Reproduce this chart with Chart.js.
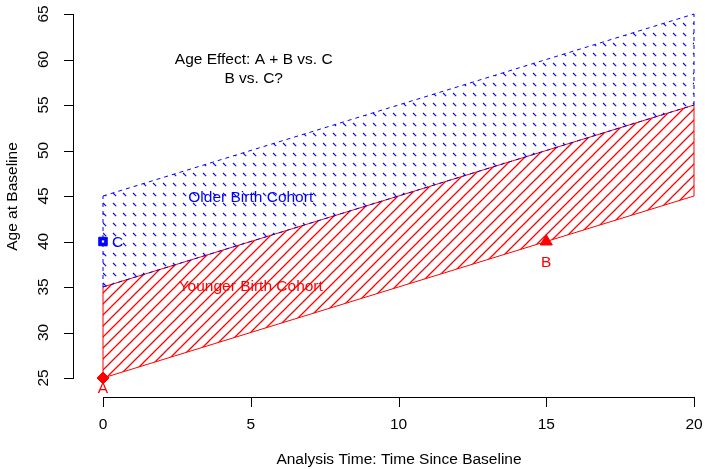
<!DOCTYPE html>
<html>
<head>
<meta charset="utf-8">
<script src="https://cdn.jsdelivr.net/npm/chart.js@4/dist/chart.umd.min.js"></script>
<style>
  html, body { margin: 0; padding: 0; background: #fff; }
  #wrap { width: 705px; height: 469px; }
</style>
</head>
<body>
<div id="wrap"><canvas id="cohort-chart" width="705" height="469"></canvas></div>
<script>
// Data
const timeX = [0, 20];
const youngerLow = [25, 45];
const youngerHigh = [35, 55];
const olderLow = [35, 55];
const olderHigh = [45, 65];

const xTicks = [0, 5, 10, 15, 20];
const yTicks = [25, 30, 35, 40, 45, 50, 55, 60, 65];

// marked points: A, B, C
const pointNames = ['A', 'B', 'C'];
const pointX = [0, 15, 0];
const pointY = [25, 40, 40];

const RED = 'rgb(255, 0, 0)';
const BLUE = 'rgb(0, 0, 255)';
const FONT = "'Liberation Sans', Arial, Helvetica, sans-serif";

function toXY(ys) {
    return timeX.map((x, i) => ({ x: x, y: ys[i] }));
}
function edge(x, lo, hi) {
    return [{ x: x, y: lo }, { x: x, y: hi }];
}

const ctx = document.getElementById('cohort-chart').getContext('2d');

// hatch patterns
function makeTile(size, draw) {
    const c = document.createElement('canvas');
    c.width = size; c.height = size;
    const g = c.getContext('2d');
    draw(g, size);
    return ctx.createPattern(c, 'repeat');
}
const redPattern = makeTile(11, (g, s) => {
    g.strokeStyle = RED;
    g.lineWidth = 1.3;
    g.beginPath();
    g.moveTo(-2, s + 2); g.lineTo(s + 2, -2);
    g.moveTo(-3, 3); g.lineTo(3, -3);
    g.moveTo(s - 3, s + 3); g.lineTo(s + 3, s - 3);
    g.stroke();
});
const bluePattern = makeTile(10, (g, s) => {
    g.strokeStyle = BLUE;
    g.lineWidth = 1.1;
    g.beginPath();
    g.moveTo(3, 3); g.lineTo(6.2, 6.2);
    g.stroke();
});

const lineBase = { pointRadius: 0, borderWidth: 1, tension: 0, clip: false };

// axes, tick labels and text drawn R-style
const annotations = {
    id: 'annotations',
    afterDatasetsDraw(chart) {
        const g = chart.ctx;
        const xs = chart.scales.x, ys = chart.scales.y;
        const axisX = xs.left - 30;   // detached y axis
        const axisY = ys.bottom + 19; // detached x axis
        g.save();
        g.strokeStyle = '#000';
        g.lineWidth = 1;
        g.fillStyle = '#000';
        g.font = '15.5px ' + FONT;

        // x axis
        const x0 = Math.round(xs.getPixelForValue(xTicks[0])) + 0.5;
        const x1 = Math.round(xs.getPixelForValue(xTicks[xTicks.length - 1])) + 0.5;
        g.beginPath();
        g.moveTo(x0, axisY + 0.5); g.lineTo(x1, axisY + 0.5);
        xTicks.forEach(t => {
            const px = Math.round(xs.getPixelForValue(t)) + 0.5;
            g.moveTo(px, axisY); g.lineTo(px, axisY + 10);
        });
        g.stroke();
        g.textAlign = 'center';
        g.textBaseline = 'middle';
        xTicks.forEach(t => g.fillText(String(t), xs.getPixelForValue(t), axisY + 28));
        g.fillText('Analysis Time: Time Since Baseline', (x0 + x1) / 2, axisY + 63);

        // y axis
        const y0 = Math.round(ys.getPixelForValue(yTicks[0])) + 0.5;
        const y1 = Math.round(ys.getPixelForValue(yTicks[yTicks.length - 1])) + 0.5;
        g.beginPath();
        g.moveTo(axisX + 0.5, y0); g.lineTo(axisX + 0.5, y1);
        yTicks.forEach(t => {
            const py = Math.round(ys.getPixelForValue(t)) + 0.5;
            g.moveTo(axisX + 1, py); g.lineTo(axisX - 9, py);
        });
        g.stroke();
        yTicks.forEach(t => {
            g.save();
            g.translate(axisX - 29, ys.getPixelForValue(t));
            g.rotate(-Math.PI / 2);
            g.fillText(String(t), 0, 0);
            g.restore();
        });
        g.save();
        g.translate(axisX - 60, (y0 + y1) / 2);
        g.rotate(-Math.PI / 2);
        g.fillText('Age at Baseline', 0, 0);
        g.restore();

        // title text inside plot
        g.fillText('Age Effect: A + B vs. C', xs.getPixelForValue(5.1), ys.getPixelForValue(60));
        g.fillText('B vs. C?', xs.getPixelForValue(5.1), ys.getPixelForValue(57.9));

        // cohort labels
        g.fillStyle = BLUE;
        g.fillText('Older Birth Cohort', xs.getPixelForValue(5), ys.getPixelForValue(44.8));
        g.fillStyle = RED;
        g.fillText('Younger Birth Cohort', xs.getPixelForValue(5), ys.getPixelForValue(35));

        // point labels
        g.fillStyle = RED;
        g.fillText(pointNames[0], xs.getPixelForValue(pointX[0]), ys.getPixelForValue(pointY[0]) + 11);
        g.fillText(pointNames[1], xs.getPixelForValue(pointX[1]), ys.getPixelForValue(pointY[1]) + 21);
        g.fillStyle = BLUE;
        g.textAlign = 'left';
        g.fillText(pointNames[2], xs.getPixelForValue(pointX[2]) + 9, ys.getPixelForValue(pointY[2]) + 1);
        g.restore();
    }
};

const cohortChart = new Chart(ctx, {
    type: 'line',
    data: {
        datasets: [
            // markers
            {
                type: 'scatter',
                data: [{ x: pointX[2], y: pointY[2] }],
                pointStyle: 'rect', pointRadius: 1.6,
                backgroundColor: '#fff', borderWidth: 0,
                clip: false, order: -1
            },
            {
                type: 'scatter',
                data: [{ x: pointX[0], y: pointY[0] }],
                pointStyle: 'rectRot', pointRadius: 6,
                backgroundColor: RED, borderColor: RED, borderWidth: 1,
                clip: false, order: 0
            },
            {
                type: 'scatter',
                data: [{ x: pointX[1], y: pointY[1] }],
                pointStyle: 'triangle', pointRadius: 7,
                backgroundColor: RED, borderColor: RED, borderWidth: 1,
                clip: false, order: 0
            },
            {
                type: 'scatter',
                data: [{ x: pointX[2], y: pointY[2] }],
                pointStyle: 'rect', pointRadius: 6,
                backgroundColor: BLUE, borderColor: BLUE, borderWidth: 1,
                clip: false, order: 0
            },
            // older cohort band
            Object.assign({}, lineBase, {
                data: toXY(olderHigh), borderColor: BLUE, borderDash: [4, 4],
                backgroundColor: bluePattern, fill: '+1', order: 3
            }),
            Object.assign({}, lineBase, {
                data: toXY(olderLow), borderColor: BLUE, borderDash: [4, 4],
                fill: false, order: 1
            }),
            // younger cohort band
            Object.assign({}, lineBase, {
                data: toXY(youngerHigh), borderColor: RED,
                backgroundColor: redPattern, fill: '+1', order: 2
            }),
            Object.assign({}, lineBase, {
                data: toXY(youngerLow), borderColor: RED, fill: false, order: 2
            }),
            // band edges
            Object.assign({}, lineBase, {
                data: edge(timeX[0], olderLow[0], olderHigh[0]), borderColor: BLUE,
                borderDash: [4, 4], fill: false, order: 2
            }),
            Object.assign({}, lineBase, {
                data: edge(timeX[1], olderLow[1], olderHigh[1]), borderColor: BLUE,
                borderDash: [4, 4], fill: false, order: 2
            }),
            Object.assign({}, lineBase, {
                data: edge(timeX[0], youngerLow[0], youngerHigh[0]), borderColor: RED,
                fill: false, order: 2
            }),
            Object.assign({}, lineBase, {
                data: edge(timeX[1], youngerLow[1], youngerHigh[1]), borderColor: RED,
                fill: false, order: 2
            })
        ]
    },
    options: {
        responsive: false,
        animation: false,
        events: [],
        layout: { padding: { left: 103, right: 11, top: 14, bottom: 91 } },
        scales: {
            x: { type: 'linear', min: 0, max: 20, display: false },
            y: { type: 'linear', min: 25, max: 65, display: false }
        },
        plugins: {
            legend: { display: false },
            tooltip: { enabled: false }
        }
    },
    plugins: [annotations]
});
</script>
</body>
</html>
